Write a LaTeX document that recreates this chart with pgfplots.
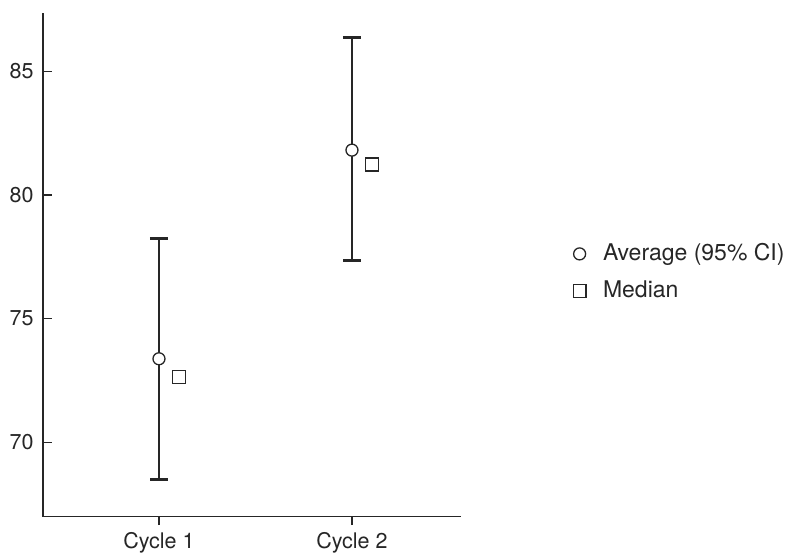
\documentclass[border=0pt]{standalone}
\usepackage{fontspec}
\setmainfont{TeX Gyre Heros}
\usepackage{pgfplots}
\pgfplotsset{compat=1.18}
\definecolor{ink}{HTML}{262626}
\begin{document}
\fontsize{21.5bp}{26bp}\selectfont
\begin{tikzpicture}
\path[use as bounding box] (-43bp,-38.3bp) rectangle (750bp,516.7bp);
\begin{axis}[
  at={(0,0)}, anchor=south west,
  scale only axis, width=418bp, height=503.7bp,
  xmin=0.399, xmax=2.565, ymin=67.0, ymax=87.35,
  axis lines=left,
  axis line style={-, line width=1.3bp, draw=ink},
  xtick={1,2}, xticklabels={Cycle 1, Cycle 2},
  ytick={70,75,80,85},
  tick align=inside,
  major tick length=8.5bp,
  tick style={line width=1.2bp, draw=ink},
  every x tick/.append style={yshift=-8.5bp},
  xticklabel style={yshift=-8bp},
  yticklabel style={xshift=-2bp},
  /pgf/number format/assume math mode=true,
  ticklabel style={font=\fontsize{21.5bp}{26bp}\selectfont, text=ink},
  legend style={at={(1.268,0.485)}, anchor=west, draw=none, fill=none,
    font=\fontsize{23bp}{27bp}\selectfont, text=ink, row sep=17bp,
    inner sep=0pt, nodes={inner sep=0pt},
    /tikz/every odd column/.append style={column sep=17bp}},
  legend cell align=left,
  clip=false,
]
\addplot[only marks, mark=*, mark size=6bp,
  mark options={fill=white, draw=ink, line width=1.3bp},
  error bars/.cd, y dir=both, y explicit,
  error bar style={line width=2.8bp, draw=ink},
  error mark options={rotate=90, mark size=9bp, line width=2.8bp, draw=ink}]
  coordinates {(1,73.38) += (0,4.86) -= (0,4.88) (2,81.81) += (0,4.54) -= (0,4.45)};
\addplot[only marks, mark=square, mark size=6.4bp,
  mark options={draw=ink, line width=1.3bp}]
  coordinates {(1.105,72.65) (2.105,81.23)};
\addlegendimage{legend image code/.code={\draw[fill=white, draw=ink, line width=1.1bp] (5bp,0bp) circle (4.3bp);}}
\addlegendentry{Average (95\% CI)}
\addlegendimage{legend image code/.code={\draw[fill=white, draw=ink, line width=1.1bp] (0.7bp,-4.3bp) rectangle (9.3bp,4.3bp);}}
\addlegendentry{Median}
\end{axis}
\end{tikzpicture}
\end{document}
